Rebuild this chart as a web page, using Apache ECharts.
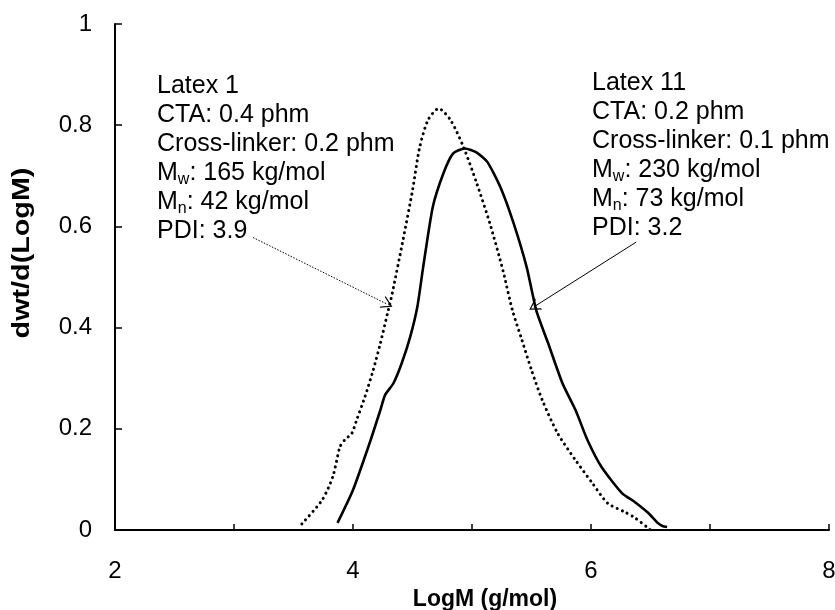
<!DOCTYPE html>
<html>
<head>
<meta charset="utf-8">
<script src="https://cdn.jsdelivr.net/npm/echarts@6/dist/echarts.min.js"></script>
<style>html,body{margin:0;padding:0;background:#fff}#c{width:835px;height:610px}</style>
</head>
<body>
<div id="c"></div>
<script>
// Latex 1 (dotted)
const latex1X = [3.57,3.74,3.83,3.89,3.93,3.99,4.03,4.10,4.17,4.23,4.29,4.33,4.42,4.50,4.56,4.63,4.72,4.82,4.93,5.04,5.15,5.26,5.34,5.42,5.50,5.59,5.72,5.87,6.01,6.14,6.28,6.37,6.50];
const latex1Y = [0.012,0.059,0.105,0.164,0.178,0.191,0.217,0.263,0.316,0.369,0.428,0.468,0.573,0.671,0.756,0.81,0.833,0.81,0.756,0.685,0.606,0.513,0.434,0.375,0.316,0.257,0.191,0.138,0.093,0.053,0.036,0.024,0.0];
// Latex 11 (solid)
const latex11X = [3.87,4.00,4.14,4.23,4.27,4.34,4.41,4.48,4.54,4.59,4.67,4.76,4.84,4.94,5.04,5.13,5.24,5.35,5.46,5.54,5.64,5.76,5.87,5.97,6.09,6.26,6.37,6.48,6.56,6.60,6.64];
const latex11Y = [0.014,0.079,0.172,0.237,0.267,0.290,0.330,0.381,0.440,0.520,0.638,0.705,0.744,0.754,0.746,0.727,0.677,0.606,0.519,0.434,0.369,0.29,0.237,0.178,0.124,0.073,0.055,0.034,0.014,0.008,0.006];
// annotation arrows (data coordinates: from label to curve)
const arrow1From = [3.16, 0.578], arrow1To = [4.29, 0.446];
const arrow11From = [6.38, 0.569], arrow11To = [5.52, 0.441];
// annotation texts
const latex1Lines = ['Latex 1','CTA: 0.4 phm','Cross-linker: 0.2 phm','{n|M}{s|w}{n|: 165 kg/mol}','{n|M}{s|n}{n|: 42 kg/mol}','PDI: 3.9'];
const latex11Lines = ['Latex 11','CTA: 0.2 phm','Cross-linker: 0.1 phm','{n|M}{s|w}{n|: 230 kg/mol}','{n|M}{s|n}{n|: 73 kg/mol}','PDI: 3.2'];
const xTicks = {min: 2, max: 8, interval: 1};
const yTicks = {min: 0, max: 1, interval: 0.2};

const FONT = 'Liberation Sans, Arial, sans-serif';
const zip = (xs, ys) => xs.map((x, i) => [x, ys[i]]);
const chev = 'path://M50,0 L100,100 L89,100 L50,20 L11,100 L0,100 Z';
const rich = {
  n: {fontSize: 25, lineHeight: 29, fontFamily: FONT, color: '#000'},
  s: {fontSize: 16, lineHeight: 15, fontFamily: FONT, color: '#000', verticalAlign: 'bottom'}
};
function richText(lines){ return lines.map(l => l.indexOf('{') === 0 ? l : '{n|' + l + '}').join('\n'); }

const el = document.getElementById('c');
const chart = echarts.init(el);
chart.setOption({
  animation: false,
  backgroundColor: '#fff',
  grid: {left: 115, right: 6, top: 24, bottom: 80, containLabel: false, outerBoundsMode: 'none'},
  xAxis: {
    type: 'value', min: xTicks.min, max: xTicks.max, interval: xTicks.interval,
    name: 'LogM (g/mol)', nameLocation: 'middle', nameGap: 55,
    nameTextStyle: {fontFamily: FONT, fontWeight: 'bold', fontSize: 23, color: '#000', padding: [0,0,0,26]},
    axisLine: {lineStyle: {color: '#000', width: 2}},
    axisTick: {inside: true, length: 6, lineStyle: {color: '#000', width: 1.5}},
    axisLabel: {margin: 29, fontFamily: FONT, fontSize: 24, color: '#000',
      formatter: v => (Math.round(v) % 2 === 0 ? String(v) : '')},
    splitLine: {show: false}
  },
  yAxis: {
    type: 'value', min: yTicks.min, max: yTicks.max, interval: yTicks.interval,
    axisLine: {show: true, lineStyle: {color: '#000', width: 2}},
    axisTick: {show: true, inside: true, length: 7, lineStyle: {color: '#000', width: 1.5}},
    axisLabel: {margin: 23, fontFamily: FONT, fontSize: 24, color: '#000',
      formatter: v => String(Math.round(v * 10) / 10)},
    splitLine: {show: false}
  },
  graphic: [
    {type: 'text', x: 23, y: 253, rotation: Math.PI / 2, scaleX: 1.25,
      style: {text: 'dwt/d(LogM)', font: 'bold 23px ' + FONT, fill: '#000', textAlign: 'center', textVerticalAlign: 'middle'}},
    {type: 'text', x: 157, y: 72,
      style: {text: richText(latex1Lines), rich: rich, textVerticalAlign: 'top', fill: '#000'}},
    {type: 'text', x: 592, y: 69,
      style: {text: richText(latex11Lines), rich: rich, textVerticalAlign: 'top', fill: '#000'}}
  ],
  series: [
    {
      name: 'Latex 1', type: 'line', data: zip(latex1X, latex1Y), showSymbol: false, smooth: 0.25,
      lineStyle: {color: '#000', width: 3, type: [0.1, 5.5], cap: 'round'},
      markLine: {
        silent: true, symbol: ['none', chev], symbolSize: [13, 11],
        lineStyle: {color: '#000', width: 1, type: [1.5, 1.5]}, label: {show: false},
        data: [[{coord: arrow1From}, {coord: arrow1To}]]
      }
    },
    {
      name: 'Latex 11', type: 'line', data: zip(latex11X, latex11Y), showSymbol: false, smooth: 0.2,
      lineStyle: {color: '#000', width: 2.6},
      markLine: {
        silent: true, symbol: ['none', chev], symbolSize: [13, 11],
        lineStyle: {color: '#000', width: 1, type: 'solid'}, label: {show: false},
        data: [[{coord: arrow11From}, {coord: arrow11To}]]
      }
    }
  ]
});
</script>
</body>
</html>
